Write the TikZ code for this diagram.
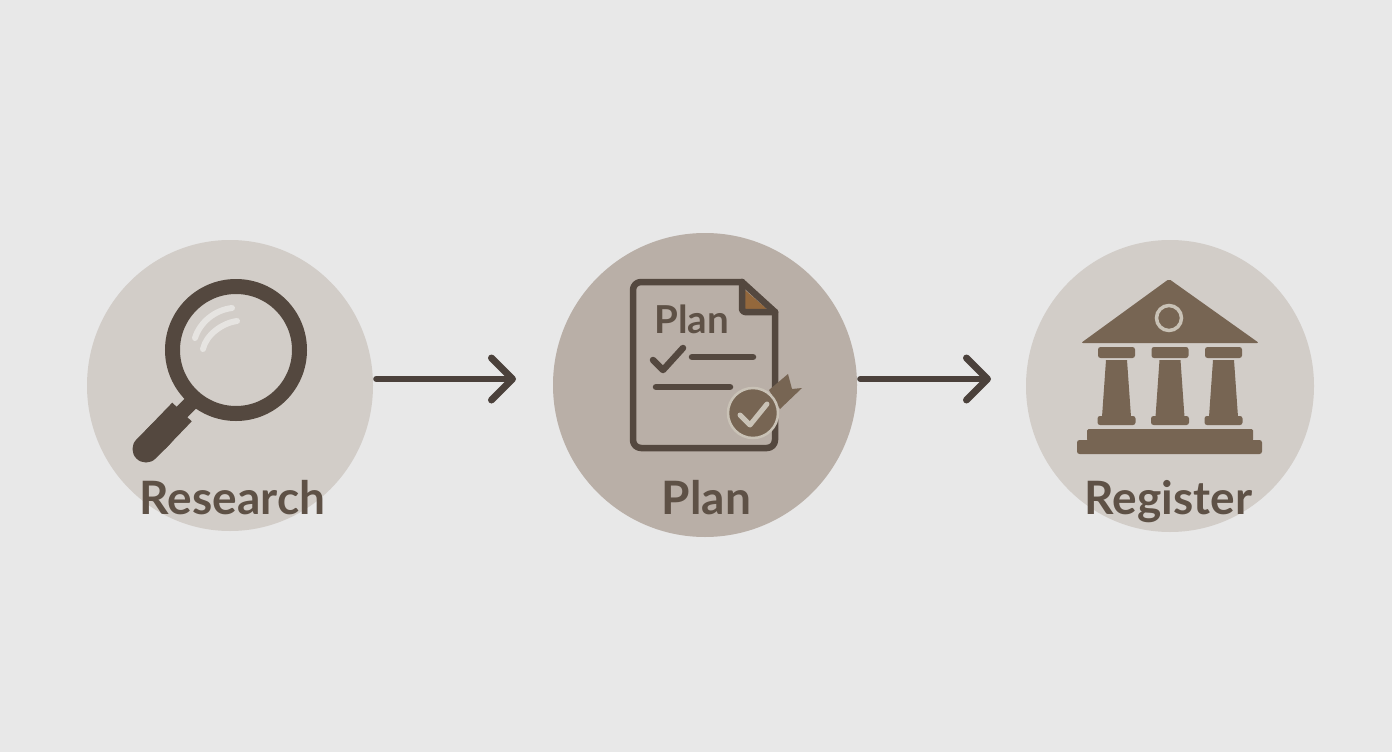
\documentclass[tikz,border=0pt]{standalone}
\usepackage{fontspec}
\setmainfont{Lato}
\usetikzlibrary{arrows.meta,shapes.geometric}

\definecolor{bgcol}{HTML}{E8E8E8}
\definecolor{palecol}{HTML}{D2CDC8}
\definecolor{midcol}{HTML}{B9AFA7}
\definecolor{inkcol}{HTML}{54483F}
\definecolor{arrowcol}{HTML}{4B413B}
\definecolor{textcol}{HTML}{5E5146}
\definecolor{browncol}{HTML}{776553}
\definecolor{foldcol}{HTML}{94683C}
\definecolor{shinecol}{HTML}{E6E4E1}
\definecolor{tickcol}{HTML}{C9C2B6}

\tikzset{
  disc/.style 2 args={ellipse,inner sep=0pt,minimum width=#1,minimum height=#2},
  bigtext/.style={anchor=base,text=textcol,font=\fontsize{46}{46}\selectfont\bfseries},
  flow/.style={draw=arrowcol,line width=6pt,line cap=round,shorten <=3pt,
    -{Straight Barb[length=21pt,width=42pt,line width=7pt,round]}},
  inkline/.style={draw=inkcol,line width=6.5pt,line cap=round,line join=round},
  stone/.style={fill=browncol,rounded corners=2.5pt}
}

\begin{document}
\begin{tikzpicture}[x=1pt,y=-1pt]
\fill[bgcol] (0,0) rectangle (1392,752);
\useasboundingbox (0,0) rectangle (1392,752);

\node[disc={286pt}{291pt},fill=palecol] (research) at (230,385.5) {};
\node[disc={304pt}{304pt},fill=midcol] (plan) at (705,385) {};
\node[disc={288pt}{292pt},fill=palecol] (register) at (1170,386) {};

% arrows
\coordinate (plantip) at (516,379);
\coordinate (registertip) at (991,379);
\draw[flow] (research.east |- plantip) -- (plantip);
\draw[flow] (plan.east |- registertip) -- (registertip);

% lens
\draw[draw=inkcol,line width=15pt] (236,350) circle (63.5pt);
\draw[draw=shinecol,line width=6pt,line cap=round] (195,338) .. controls (200,322) and (215,310) .. (232,308);
\draw[draw=shinecol,line width=6pt,line cap=round] (203,349) .. controls (206,335) and (222,323) .. (237,321);
\draw[draw=inkcol,line width=15pt] (180,414) -- (196,398);
\draw[draw=inkcol,line width=27pt] (182,412) -- (155,440);
\draw[draw=inkcol,line width=27pt,line cap=round] (160,435) -- (146,449);

% document
\draw[inkline,rounded corners=8pt] (742,282) -- (633,282) -- (633,448) -- (775,448) -- (775,312);
\fill[foldcol] (745,290) -- (768,310) -- (745,310) -- cycle;
\draw[inkline] (742,282) -- (775,312);
\draw[inkline,rounded corners=3pt] (742,282) -- (742,312) -- (775,312);
\node[anchor=base,text=textcol,font=\fontsize{38.5}{38.5}\selectfont\bfseries] (plantitle) at (691.5,333.5) {Plan};
\draw[inkline] (653,360) -- (663,370) -- (683,348);
\draw[inkline] (692,357) -- (753,357);
\draw[inkline] (656,387) -- (730,387);
\fill[browncol] (769,390) -- (788,374) -- (792,389) -- (802,388) -- (780,409) -- cycle;
\node[disc={50pt}{50pt},fill=browncol,draw=tickcol,line width=2.5pt] (badge) at (753,413) {};
\draw[draw=tickcol,line width=5pt,line cap=round,line join=round] (740,415) -- (750,425) -- (767,404);

% temple
\fill[browncol,rounded corners=2pt] (1169,279) -- (1259,343) -- (1081,343) -- cycle;
\draw[draw=tickcol,fill=browncol,line width=3.5pt] (1169,318) circle (12.5pt);
\foreach \cx in {1116.5,1170,1223.5} {
  \fill[stone] (\cx-18.5,347) rectangle (\cx+18.5,358);
  \fill[browncol] (\cx-10.5,360) -- (\cx+10.5,360) -- (\cx+14.5,417) -- (\cx-14.5,417) -- cycle;
  \fill[stone] (\cx-19,416) rectangle (\cx+19,425);
}
\fill[browncol,rounded corners=1.5pt] (1087,429) rectangle (1253,441);
\fill[stone] (1077,440) rectangle (1262,454);

% labels
\node[bigtext] (researchtext) at (232.5,514) {Research};
\node[bigtext] (plantext) at (706.5,514) {Plan};
\node[bigtext] (registertext) at (1168.5,514) {Register};
\end{tikzpicture}
\end{document}
